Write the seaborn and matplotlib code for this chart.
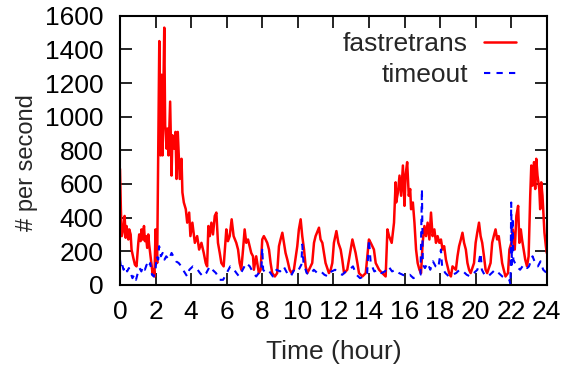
import matplotlib
matplotlib.use("Agg")
import matplotlib.pyplot as plt
import seaborn as sns
import pandas as pd

# ---- data (hour, events per second) ----
fast_hours = [
    0.00, 0.05, 0.10, 0.19, 0.26, 0.32, 0.37, 0.47, 0.52, 0.60, 0.65, 0.75, 0.84, 0.93,
    1.03, 1.08, 1.16, 1.21, 1.27, 1.35, 1.40, 1.46, 1.53, 1.59, 1.64, 1.72, 1.83, 1.89,
    1.94, 2.00, 2.06, 2.09, 2.21, 2.28, 2.34, 2.39, 2.49, 2.54, 2.62, 2.67, 2.73, 2.82,
    2.90, 2.95, 3.05, 3.12, 3.18, 3.25, 3.36, 3.46, 3.51, 3.59, 3.70, 3.78, 3.89, 3.96,
    4.07, 4.21, 4.34, 4.45, 4.58, 4.71, 4.82, 4.90, 4.97, 5.05, 5.14, 5.23, 5.33, 5.42,
    5.51, 5.61, 5.70, 5.83, 5.98, 6.07, 6.17, 6.28, 6.39, 6.54, 6.64, 6.73, 6.82, 6.92,
    7.01, 7.10, 7.20, 7.29, 7.38, 7.48, 7.53, 7.66, 7.72, 7.81, 7.91, 8.00, 8.09, 8.19,
    8.28, 8.38, 8.47, 8.56, 8.71, 8.84, 8.94, 9.03, 9.13, 9.22, 9.31, 9.41, 9.54, 9.65,
    9.78, 9.97, 10.06, 10.16, 10.25, 10.35, 10.44, 10.53, 10.63, 10.81, 10.91, 11.00,
    11.19, 11.28, 11.38, 11.47, 11.56, 11.75, 11.85, 11.94, 12.03, 12.17, 12.28, 12.41,
    12.50, 12.60, 12.78, 12.97, 13.07, 13.16, 13.25, 13.35, 13.44, 13.63, 13.82, 14.00,
    14.10, 14.28, 14.38, 14.57, 14.75, 14.94, 15.04, 15.13, 15.28, 15.41, 15.50, 15.53,
    15.63, 15.72, 15.81, 15.91, 16.00, 16.06, 16.15, 16.24, 16.32, 16.37, 16.47, 16.56,
    16.65, 16.74, 16.84, 16.93, 17.02, 17.12, 17.21, 17.30, 17.40, 17.49, 17.58, 17.68,
    17.77, 17.86, 17.96, 18.05, 18.14, 18.23, 18.33, 18.42, 18.51, 18.61, 18.70, 18.89,
    18.98, 19.07, 19.17, 19.26, 19.35, 19.45, 19.54, 19.63, 19.72, 19.91, 20.00, 20.09,
    20.19, 20.28, 20.37, 20.47, 20.56, 20.65, 20.84, 20.93, 21.02, 21.12, 21.21, 21.30,
    21.40, 21.49, 21.58, 21.68, 21.82, 21.90, 22.01, 22.09, 22.20, 22.29, 22.39, 22.46,
    22.54, 22.61, 22.70, 22.79, 22.89, 22.98, 23.07, 23.13, 23.20, 23.28, 23.35, 23.41,
    23.48, 23.58, 23.63, 23.69, 23.76, 23.82, 23.87, 23.95, 24.00,
]
fast_values = [
    690, 450, 290, 330, 410, 280, 350, 270, 330, 300, 210, 160, 120, 110,
    250, 300, 260, 330, 270, 350, 260, 290, 220, 300, 240, 170, 70, 90,
    50, 330, 200, 130, 1450, 770, 1250, 770, 1530, 950, 810, 930, 770, 1090,
    650, 890, 810, 910, 630, 910, 630, 750, 550, 490, 450, 370, 430, 290,
    370, 250, 290, 210, 250, 190, 130, 110, 350, 290, 370, 300, 410, 430,
    250, 190, 130, 110, 330, 260, 290, 390, 290, 250, 210, 130, 90, 210,
    330, 250, 270, 230, 190, 170, 90, 170, 130, 70, 90, 270, 290, 270,
    250, 210, 130, 70, 50, 70, 230, 270, 310, 250, 190, 150, 90, 70,
    90, 230, 330, 390, 290, 210, 110, 70, 90, 130, 250, 290,
    340, 270, 250, 190, 130, 70, 90, 130, 250, 320, 250, 210,
    150, 70, 90, 210, 270, 230, 190, 130, 70, 50, 70, 270,
    250, 210, 130, 90, 70, 50, 330, 290, 250, 370, 610, 490,
    550, 650, 530, 710, 470, 650, 730, 530, 570, 450, 490, 370,
    210, 130, 90, 70, 250, 350, 290, 370, 270, 430, 290, 330,
    250, 290, 250, 270, 210, 230, 150, 110, 70, 50, 110, 90,
    170, 230, 270, 310, 250, 210, 130, 90, 70, 130, 250, 310,
    370, 290, 250, 170, 90, 70, 130, 250, 290, 330, 270, 290,
    210, 130, 90, 50, 70, 210, 250, 330, 210, 410, 470, 250,
    330, 270, 210, 150, 110, 170, 530, 710, 590, 730, 570, 750,
    650, 570, 450, 610, 530, 410, 310, 230, 190,
]

timeout_hours = [
    0.00, 0.05, 0.10, 0.20, 0.30, 0.40, 0.50, 0.60, 0.70, 0.80, 0.90, 1.00, 1.10, 1.20,
    1.30, 1.40, 1.50, 1.60, 1.70, 1.80, 1.90, 2.00, 2.06, 2.15, 2.20, 2.30, 2.40, 2.50,
    2.60, 2.75, 2.90, 3.00, 3.15, 3.30, 3.45, 3.60, 3.78, 3.90, 4.10, 4.30, 4.50, 4.67,
    4.85, 5.05, 5.20, 5.40, 5.60, 5.80, 6.00, 6.20, 6.35, 6.55, 6.70, 6.90, 7.10, 7.30,
    7.50, 7.66, 7.80, 7.95, 8.00, 8.05, 8.20, 8.40, 8.60, 8.80, 9.00, 9.20, 9.40, 9.60,
    9.80, 10.00, 10.20, 10.25, 10.32, 10.50, 10.70, 10.90, 11.10, 11.30, 11.50, 11.70,
    11.90, 12.10, 12.30, 12.50, 12.70, 12.90, 13.10, 13.30, 13.50, 13.70, 13.90, 14.00,
    14.10, 14.30, 14.50, 14.70, 14.90, 15.10, 15.30, 15.50, 15.70, 15.90, 16.10, 16.30,
    16.50, 16.70, 16.90, 16.98, 17.03, 17.15, 17.30, 17.45, 17.60, 17.75, 17.90, 18.05,
    18.12, 18.30, 18.50, 18.70, 18.90, 19.10, 19.30, 19.50, 19.70, 19.90, 20.10, 20.28,
    20.35, 20.50, 20.70, 20.90, 21.10, 21.30, 21.50, 21.70, 21.90, 21.96, 22.00, 22.04,
    22.08, 22.12, 22.30, 22.50, 22.70, 22.90, 23.00, 23.20, 23.35, 23.50, 23.65, 23.80,
    24.00,
]
timeout_values = [
    150, 110, 130, 90, 110, 80, 100, 70, 40, 60, 30, 70, 100, 80,
    110, 90, 120, 100, 130, 60, 50, 90, 170, 150, 230, 170, 190, 150,
    170, 150, 190, 170, 140, 130, 110, 80, 50, 90, 110, 100, 70, 50,
    70, 110, 90, 70, 30, 30, 70, 110, 100, 70, 50, 90, 130, 110,
    70, 50, 70, 90, 220, 90, 70, 80, 50, 90, 80, 110, 70, 50,
    90, 80, 120, 240, 130, 70, 60, 90, 70, 80, 60, 50,
    80, 90, 70, 60, 80, 90, 110, 60, 40, 50, 70, 270,
    130, 80, 90, 70, 80, 110, 80, 90, 70, 60, 50, 60,
    40, 50, 60, 570, 120, 100, 130, 90, 140, 110, 100, 210,
    100, 70, 50, 60, 70, 90, 80, 60, 50, 70, 90, 190,
    90, 60, 50, 70, 90, 70, 50, 40, 30, 0, 490, 120,
    400, 150, 110, 90, 120, 100, 110, 170, 130, 110, 140, 90,
    70,
]

series_labels = ["fastretrans", "timeout"]
x_ticks = list(range(0, 25, 2))
y_ticks = list(range(0, 1601, 200))

# ---- plotting ----
sns.set_theme(style="ticks")
plt.rcParams["font.family"] = ["Liberation Sans", "DejaVu Sans"]
FS = 19

fig = plt.figure(figsize=(5.66, 3.69), dpi=100)
ax = fig.add_axes([0.212, 0.228, 0.754, 0.729])

df_fast = pd.DataFrame({"hour": fast_hours, "value": fast_values})
df_to = pd.DataFrame({"hour": timeout_hours, "value": timeout_values})

sns.lineplot(data=df_fast, x="hour", y="value", ax=ax, color="#ff0000",
             lw=1.8, estimator=None, label=series_labels[0])
sns.lineplot(data=df_to, x="hour", y="value", ax=ax, color="#0000ff",
             lw=1.5, estimator=None, label=series_labels[1],
             linestyle=(0, (3, 3)))

ax.set_xlim(0, 24)
ax.set_ylim(0, 1600)
ax.set_xticks(x_ticks)
ax.set_yticks(y_ticks)
ax.tick_params(direction="in", length=8.5, width=1.2, top=True, right=True,
               labelsize=FS, colors="black")
ax.tick_params(axis="x", pad=11)
ax.tick_params(axis="y", pad=12)
for s in ax.spines.values():
    s.set_linewidth(1.5)
    s.set_color("black")

ax.set_xlabel("Time (hour)", fontsize=FS)
ax.set_ylabel("# per second", fontsize=17)
ax.xaxis.label.set_va("baseline")
ax.yaxis.label.set_va("baseline")
ax.xaxis.set_label_coords(0.5, -0.277)
ax.yaxis.set_label_coords(-0.204, 0.455)

ax.legend(loc="upper right", bbox_to_anchor=(0.927, 0.94), frameon=False,
          markerfirst=False, fontsize=FS, handlelength=1.2, handletextpad=0.6,
          labelspacing=0.28, borderpad=0, borderaxespad=0)

fig.savefig("out.png", dpi=100)
